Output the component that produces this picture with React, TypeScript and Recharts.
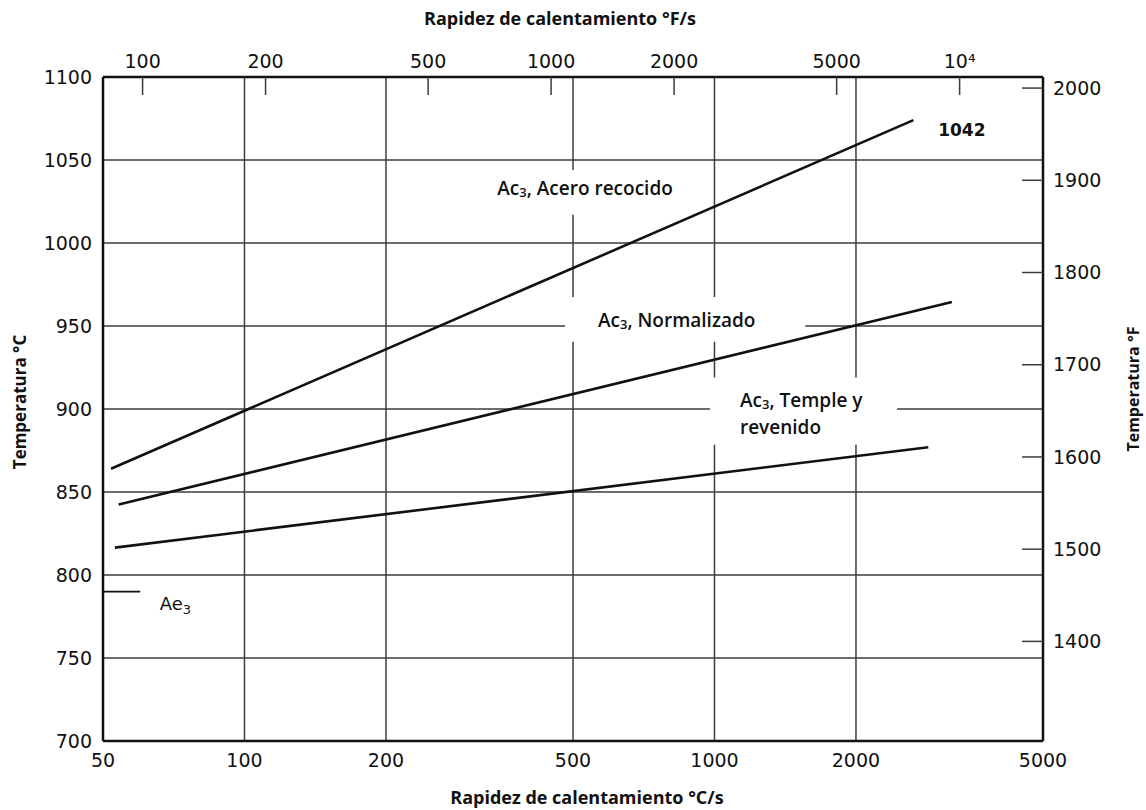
import React from 'react';
import { LineChart, Line, XAxis, YAxis, CartesianGrid, ReferenceArea, ReferenceDot } from 'recharts';

// ---- Axis ticks ----
const rateTicksC = [50, 100, 200, 500, 1000, 2000, 5000];
const rateTicksF = [100, 200, 500, 1000, 2000, 5000, 10000];
const tempTicksC = [700, 750, 800, 850, 900, 950, 1000, 1050, 1100];
const tempTicksF = [1400, 1500, 1600, 1700, 1800, 1900, 2000];

// ---- Series: heating rate (°C/s) vs temperature (°C) ----
const annealedRates = [52, 2650];
const annealedTemps = [864, 1074];
const normalizedRates = [54, 3200];
const normalizedTemps = [842.5, 964.5];
const temperedRates = [53, 2850];
const temperedTemps = [816.5, 877];
const ae3Rates = [50, 60];
const ae3Temps = [790, 790];

// ---- Annotations (data coordinates) ----
const annealedLabel = { rate: 345, temp: 1033 };
const annealedBox = { rates: [333, 900], temps: [1017, 1044] };
const normalizedLabel = { rate: 565, temp: 953.5 };
const normalizedBox = { rates: [481, 1560], temps: [940.5, 967.5] };
const temperedLabel = { rate: 1133, temp: 905.5 };
const temperedBox = { rates: [978, 2446], temps: [878.5, 919] };
const steelLabel = { rate: 3360, temp: 1068 };
const ae3Label = { rate: 66, temp: 783 };

const toPoints = (rates: number[], temps: number[]) =>
  rates.map((r, i) => ({ rate: r, temp: temps[i] }));

const annealed = toPoints(annealedRates, annealedTemps);
const normalized = toPoints(normalizedRates, normalizedTemps);
const tempered = toPoints(temperedRates, temperedTemps);
const ae3 = toPoints(ae3Rates, ae3Temps);
// chart-level rows carrying the °F/s tick values for the top axis
const topAxisRows = rateTicksF.map((v) => ({ rateF: v }));

// ---- Layout / style ----
const W = 1146;
const H = 810;
const PLOT_LEFT = 103;
const PLOT_RIGHT = 1043;
const PLOT_TOP = 77;
const PLOT_BOTTOM = 741;
const INK = '#111';
const GRID = '#3c3c3c';
const NUM_FONT = '"DejaVu Sans", "Liberation Sans", sans-serif';
const TXT_FONT = '"Open Sans", "Liberation Sans", sans-serif';

const tickStyle = { fontFamily: NUM_FONT, fontSize: 19, fill: INK };

const AxisTitle = ({ x, y, angle, text, size = 18 }: { x: number; y: number; angle?: number; text: string; size?: number }) => (
  <text
    x={x}
    y={y}
    transform={angle ? `rotate(${angle} ${x} ${y})` : undefined}
    textAnchor="middle"
    dominantBaseline="central"
    fontFamily={TXT_FONT}
    fontWeight={700}
    fontSize={size}
    fill={INK}
  >
    {text}
  </text>
);

const AcLabel = (rest: string[]) => (p: any) => (
  <text
    x={p.cx}
    y={p.cy}
    dominantBaseline="central"
    fontFamily={TXT_FONT}
    fontWeight={600}
    fontSize={19}
    fill={INK}
  >
    <tspan>Ac</tspan>
    <tspan fontSize={13} dy={4}>3</tspan>
    <tspan dy={-4}>{', ' + rest[0]}</tspan>
    {rest.slice(1).map((line, i) => (
      <tspan key={i} x={p.cx} dy={27}>
        {line}
      </tspan>
    ))}
  </text>
);

const SteelLabel = (p: any) => (
  <text
    x={p.cx}
    y={p.cy}
    textAnchor="middle"
    dominantBaseline="central"
    fontFamily={NUM_FONT}
    fontWeight={700}
    fontSize={17}
    fill={INK}
  >
    1042
  </text>
);

const Ae3Label = (p: any) => (
  <text x={p.cx} y={p.cy} dominantBaseline="central" fontFamily={NUM_FONT} fontSize={18} fill={INK}>
    <tspan>Ae</tspan>
    <tspan fontSize={13} dy={6}>3</tspan>
  </text>
);

const fmtF = (v: number) => (v === 10000 ? '10\u2074' : String(v));

export default function App() {
  return (
    <div style={{ width: W, height: H, background: '#fff' }}>
      <style>{`body{margin:0;background:#fff}`}</style>
      <LineChart width={W} height={H} data={topAxisRows} margin={{ top: 0, right: 0, bottom: 0, left: 0 }}>
        <CartesianGrid xAxisId="bottom" yAxisId="left" stroke={GRID} strokeWidth={1.5} />
        <XAxis
          xAxisId="bottom"
          dataKey="rate"
          type="number"
          scale="log"
          domain={[50, 5000]}
          ticks={rateTicksC}
          allowDataOverflow
          interval={0}
          height={H - PLOT_BOTTOM}
          tickLine={false}
          tickSize={0}
          tickMargin={13}
          tick={tickStyle}
          axisLine={{ stroke: INK, strokeWidth: 2.5 }}
          label={() => <AxisTitle x={(PLOT_LEFT + PLOT_RIGHT) / 2 + 14} y={H - 13} text="Rapidez de calentamiento °C/s" />}
        />
        <XAxis
          xAxisId="top"
          dataKey="rateF"
          orientation="top"
          type="number"
          scale="log"
          domain={[80, 16000]}
          ticks={rateTicksF}
          tickFormatter={fmtF}
          allowDataOverflow
          interval={0}
          height={PLOT_TOP}
          tickSize={-18}
          tickMargin={27}
          tickLine={{ stroke: GRID, strokeWidth: 1.5 }}
          tick={tickStyle}
          axisLine={{ stroke: INK, strokeWidth: 2.5 }}
          label={() => <AxisTitle x={(PLOT_LEFT + PLOT_RIGHT) / 2 - 13} y={18} text="Rapidez de calentamiento °F/s" />}
        />
        <YAxis
          yAxisId="left"
          type="number"
          domain={[700, 1100]}
          ticks={tempTicksC}
          allowDataOverflow
          interval={0}
          width={PLOT_LEFT}
          tickLine={false}
          tickSize={0}
          tickMargin={11}
          tick={tickStyle}
          axisLine={{ stroke: INK, strokeWidth: 2.5 }}
          label={() => <AxisTitle x={19} y={(PLOT_TOP + PLOT_BOTTOM) / 2 - 7} angle={-90} size={17} text="Temperatura °C" />}
        />
        <YAxis
          yAxisId="right"
          orientation="right"
          type="number"
          domain={[1292, 2012]}
          ticks={tempTicksF}
          allowDataOverflow
          interval={0}
          width={W - PLOT_RIGHT}
          tickSize={-21}
          tickMargin={31}
          tickLine={{ stroke: GRID, strokeWidth: 1.5 }}
          tick={tickStyle}
          axisLine={{ stroke: INK, strokeWidth: 2.5 }}
          label={() => <AxisTitle x={W - 13} y={(PLOT_TOP + PLOT_BOTTOM) / 2 - 20} angle={-90} size={16} text="Temperatura °F" />}
        />

        <ReferenceArea xAxisId="bottom" yAxisId="left" x1={annealedBox.rates[0]} x2={annealedBox.rates[1]} y1={annealedBox.temps[0]} y2={annealedBox.temps[1]} fill="#fff" fillOpacity={1} stroke="none" />
        <ReferenceArea xAxisId="bottom" yAxisId="left" x1={normalizedBox.rates[0]} x2={normalizedBox.rates[1]} y1={normalizedBox.temps[0]} y2={normalizedBox.temps[1]} fill="#fff" fillOpacity={1} stroke="none" />
        <ReferenceArea xAxisId="bottom" yAxisId="left" x1={temperedBox.rates[0]} x2={temperedBox.rates[1]} y1={temperedBox.temps[0]} y2={temperedBox.temps[1]} fill="#fff" fillOpacity={1} stroke="none" />

        <Line xAxisId="bottom" yAxisId="left" data={annealed} dataKey="temp" type="linear" stroke={INK} strokeWidth={2.6} dot={false} isAnimationActive={false} />
        <Line xAxisId="bottom" yAxisId="left" data={normalized} dataKey="temp" type="linear" stroke={INK} strokeWidth={2.6} dot={false} isAnimationActive={false} />
        <Line xAxisId="bottom" yAxisId="left" data={tempered} dataKey="temp" type="linear" stroke={INK} strokeWidth={2.6} dot={false} isAnimationActive={false} />
        <Line xAxisId="bottom" yAxisId="left" data={ae3} dataKey="temp" type="linear" stroke={INK} strokeWidth={1.6} dot={false} isAnimationActive={false} />

        <ReferenceDot xAxisId="bottom" yAxisId="left" x={annealedLabel.rate} y={annealedLabel.temp} r={0} shape={AcLabel(['Acero recocido'])} />
        <ReferenceDot xAxisId="bottom" yAxisId="left" x={normalizedLabel.rate} y={normalizedLabel.temp} r={0} shape={AcLabel(['Normalizado'])} />
        <ReferenceDot xAxisId="bottom" yAxisId="left" x={temperedLabel.rate} y={temperedLabel.temp} r={0} shape={AcLabel(['Temple y', 'revenido'])} />
        <ReferenceDot xAxisId="bottom" yAxisId="left" x={steelLabel.rate} y={steelLabel.temp} r={0} shape={SteelLabel} />
        <ReferenceDot xAxisId="bottom" yAxisId="left" x={ae3Label.rate} y={ae3Label.temp} r={0} shape={Ae3Label} />
      </LineChart>
    </div>
  );
}
